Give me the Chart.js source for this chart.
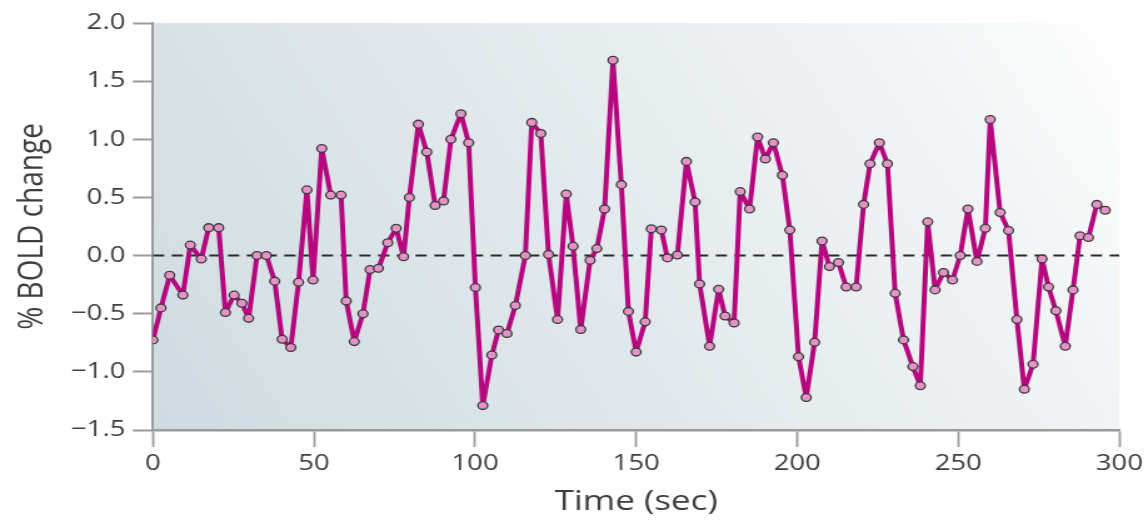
<!DOCTYPE html>
<html>
<head>
<meta charset="utf-8">
<script src="https://cdn.jsdelivr.net/npm/chart.js@4/dist/chart.umd.min.js"></script>
<style>
  html, body { margin: 0; padding: 0; background: #fff; overflow: hidden; }
  /* the source figure is stretched sideways, so draw narrow and stretch */
  #wrap { width: 918px; height: 521px; transform: scaleX(1.2505); transform-origin: 0 0; }
</style>
</head>
<body>
<div id="wrap"><canvas id="boldChart" width="918" height="521"></canvas></div>
<script>
// time of each sample (sec)
var times = [0, 2.5, 5.2, 9.3, 11.6, 15, 17.3, 20.4, 22.5, 25.2, 27.6, 29.7, 32.3, 35.2, 37.8, 40.1, 42.8, 45.2, 47.8, 49.7,
  52.4, 55.2, 58.4, 60, 62.5, 65.2, 67.4, 70, 72.9, 75.5, 77.8, 79.6, 82.4, 85, 87.6, 90.2, 92.5, 95.6, 98.0,
  100.1, 102.4, 105.2, 107.3, 109.9, 112.5, 115.6, 117.6, 120.4, 122.8, 125.6, 128.3, 130.4, 132.8, 135.7, 137.8, 140.2, 142.8, 145.4, 147.6,
  150, 152.8, 154.7, 157.8, 159.7, 162.8, 165.6, 168.3, 169.7, 172.8, 175.6, 177.6, 180.4, 182.3, 185.2, 187.7, 190.1, 192.6, 195.4, 197.7,
  200.4, 202.8, 205.4, 207.7, 210, 212.8, 215.2, 218.3, 220.6, 222.6, 225.5, 228, 230.4, 233, 235.9, 238.2, 240.5, 242.8, 245.4, 248.2,
  250.6, 253, 255.8, 258.4, 259.9, 263, 265.6, 268.2, 270.5, 273.2, 276, 278, 280.3, 283.2, 285.6, 287.8, 290.4, 293, 295.6];

// % BOLD change at each sample
var boldChange = [-0.725, -0.45, -0.17, -0.34, 0.09, -0.03, 0.24, 0.24, -0.49, -0.34, -0.41, -0.54, 0, 0, -0.22, -0.72, -0.79, -0.23, 0.565, -0.21,
  0.92, 0.52, 0.52, -0.39, -0.74, -0.5, -0.12, -0.11, 0.11, 0.235, -0.01, 0.5, 1.13, 0.89, 0.43, 0.47, 1.0, 1.22, 0.97,
  -0.275, -1.29, -0.855, -0.64, -0.67, -0.43, 0, 1.145, 1.05, 0.01, -0.55, 0.53, 0.08, -0.635, -0.04, 0.06, 0.40, 1.68, 0.61, -0.48,
  -0.83, -0.57, 0.23, 0.22, -0.02, 0.005, 0.81, 0.46, -0.245, -0.78, -0.29, -0.52, -0.58, 0.55, 0.40, 1.02, 0.83, 0.97, 0.69, 0.22,
  -0.87, -1.22, -0.745, 0.125, -0.095, -0.06, -0.27, -0.27, 0.44, 0.79, 0.97, 0.79, -0.325, -0.725, -0.955, -1.12, 0.29, -0.295, -0.145, -0.21,
  0, 0.40, -0.05, 0.235, 1.17, 0.37, 0.215, -0.55, -1.15, -0.935, -0.03, -0.27, -0.475, -0.78, -0.295, 0.17, 0.155, 0.44, 0.39];

// dashed baseline
var baseTimes = [0, 300];
var baseValues = [0, 0];

var xTicks = [0, 50, 100, 150, 200, 250, 300];
var yTicks = [-1.5, -1.0, -0.5, 0.0, 0.5, 1.0, 1.5, 2.0];

function toPoints(xs, ys) {
  return xs.map(function (x, i) { return { x: x, y: ys[i] }; });
}

var fontFamily = "'Open Sans', Lato, sans-serif";
var textColor = "#3d3d3d";
var axisColor = "#9a9a9a";

// shaded plot background
var backgroundPlugin = {
  id: "plotBackground",
  beforeDraw: function (chart) {
    var a = chart.chartArea;
    var ctx = chart.ctx;
    var g = ctx.createLinearGradient(a.left, a.bottom, a.right, a.top);
    g.addColorStop(0, "#cfdbe1");
    g.addColorStop(0.45, "#e2e9ec");
    g.addColorStop(0.85, "#f4f6f7");
    g.addColorStop(1, "#ffffff");
    ctx.save();
    ctx.fillStyle = g;
    ctx.fillRect(a.left, a.top, a.right - a.left, a.bottom - a.top);
    ctx.restore();
  }
};

var boldChart = new Chart(document.getElementById("boldChart"), {
  type: "line",
  data: {
    datasets: [
      {
        data: toPoints(times, boldChange),
        borderColor: "#b5087f",
        borderWidth: 4,
        borderJoinStyle: "round",
        pointRadius: 3.9,
        pointBackgroundColor: "#e393c6",
        pointBorderColor: "#3c3c3c",
        pointBorderWidth: 1.3,
        tension: 0,
        order: 1
      },
      {
        data: toPoints(baseTimes, baseValues),
        borderColor: "#2b2b2b",
        borderWidth: 2,
        borderDash: [9, 6],
        pointRadius: 0,
        order: 2
      }
    ]
  },
  options: {
    responsive: false,
    animation: false,
    layout: { padding: { top: 23, right: 22, left: 0, bottom: 0 } },
    plugins: {
      legend: { display: false },
      tooltip: { enabled: false }
    },
    scales: {
      x: {
        type: "linear",
        min: 0,
        max: 300,
        afterFit: function (scale) { scale.height = 91; },
        afterBuildTicks: function (scale) {
          scale.ticks = xTicks.map(function (v) { return { value: v }; });
        },
        ticks: {
          color: textColor,
          font: { family: fontFamily, size: 22 },
          padding: 4,
          maxRotation: 0
        },
        grid: { drawOnChartArea: false, tickLength: 17, tickColor: axisColor, tickWidth: 1.8 },
        border: { color: axisColor, width: 2.5 },
        title: {
          display: true,
          text: "Time (sec)",
          color: textColor,
          font: { family: fontFamily, size: 28 },
          padding: { bottom: 2 }
        }
      },
      y: {
        min: -1.5,
        max: 2.0,
        afterFit: function (scale) { scale.width = 122.3; },
        afterBuildTicks: function (scale) {
          scale.ticks = yTicks.map(function (v) { return { value: v }; });
        },
        ticks: {
          color: textColor,
          font: { family: fontFamily, size: 22 },
          padding: 6,
          callback: function (v) { return v.toFixed(1).replace("-", "\u2212"); }
        },
        grid: { drawOnChartArea: false, tickLength: 16, tickColor: axisColor, tickWidth: 2 },
        border: { color: axisColor, width: 2 },
        title: {
          display: true,
          text: "% BOLD change",
          color: textColor,
          font: { family: fontFamily, size: 28 },
          padding: { top: 9 }
        }
      }
    }
  },
  plugins: [backgroundPlugin]
});
</script>
</body>
</html>
